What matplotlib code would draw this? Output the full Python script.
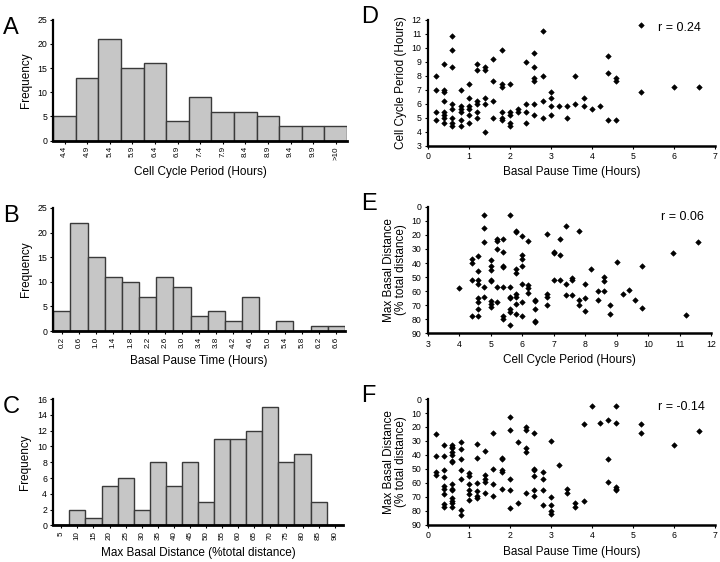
import matplotlib
matplotlib.use("Agg")
import matplotlib.pyplot as plt
import numpy as np

plt.rcParams['font.family'] = ['Liberation Sans', 'DejaVu Sans']

# histogram data
period_bins = ['4.4', '4.9', '5.4', '5.9', '6.4', '6.9', '7.4', '7.9', '8.4', '8.9', '9.4', '9.9', '>10']
period_freq = [5, 13, 21, 15, 16, 4, 9, 6, 6, 5, 3, 3, 3]

pause_bins = ['0.2', '0.6', '1.0', '1.4', '1.8', '2.2', '2.6', '3.0', '3.4', '3.8', '4.2', '4.6', '5.0', '5.4', '5.8', '6.2', '6.6']
pause_freq = [4, 22, 15, 11, 10, 7, 11, 9, 3, 4, 2, 7, 0, 2, 0, 1, 1]

dist_bins = ['5', '10', '15', '20', '25', '30', '35', '40', '45', '50', '55', '60', '65', '70', '75', '80', '85', '90']
dist_freq = [0, 2, 1, 5, 6, 2, 8, 5, 8, 3, 11, 11, 12, 15, 8, 9, 3, 0]

# D: basal pause time vs cell cycle period
d_pause = [0.2, 0.2, 0.2, 0.2,
           0.4, 0.4, 0.4, 0.4, 0.4, 0.4, 0.4, 0.4,
           0.6, 0.6, 0.6, 0.6, 0.6, 0.6, 0.6, 0.6,
           0.8, 0.8, 0.8, 0.8, 0.8, 0.8,
           1.0, 1.0, 1.0, 1.0, 1.0, 1.0,
           1.2, 1.2, 1.2, 1.2, 1.2, 1.2,
           1.4, 1.4, 1.4, 1.4, 1.4,
           1.6, 1.6, 1.6, 1.6,
           1.8, 1.8, 1.8, 1.8, 1.8, 1.8,
           2.0, 2.0, 2.0, 2.0, 2.0,
           2.2, 2.2,
           2.4, 2.4, 2.4, 2.4,
           2.6, 2.6, 2.6, 2.6, 2.6, 2.6,
           2.8, 2.8, 2.8, 2.8,
           3.0, 3.0, 3.0, 3.0,
           3.2, 3.4, 3.4, 3.6, 3.6, 3.8, 3.8, 4.0, 4.2,
           4.4, 4.4, 4.4, 4.6, 4.6, 4.6,
           5.2, 5.2, 6.0, 6.6]
d_period = [8.0, 7.0, 5.4, 4.8,
            8.8, 7.0, 6.8, 6.2, 5.4, 5.2, 5.0, 4.6,
            10.8, 9.8, 8.6, 6.0, 5.6, 5.0, 4.6, 4.4,
            7.0, 5.8, 5.6, 5.4, 4.8, 4.4,
            7.4, 6.4, 5.8, 5.6, 5.2, 4.6,
            8.8, 8.4, 6.2, 6.0, 5.4, 5.0,
            8.6, 8.4, 6.4, 6.0, 4.0,
            9.2, 7.6, 6.2, 5.0,
            9.8, 7.4, 7.2, 5.4, 5.0, 4.8,
            7.4, 5.4, 5.2, 4.6, 4.4,
            5.6, 5.4,
            9.0, 6.0, 5.4, 4.6,
            9.6, 8.6, 7.8, 7.6, 6.0, 5.2,
            11.2, 8.0, 6.2, 5.0,
            6.8, 6.4, 5.8, 5.2,
            5.8, 5.8, 5.0, 8.0, 6.0, 6.4, 5.8, 5.6, 5.8,
            9.4, 8.2, 4.8, 7.8, 7.6, 4.8,
            11.6, 6.8, 7.2, 7.2]

# E: cell cycle period vs max basal distance
e_period = [4.0,
            4.4, 4.4, 4.4, 4.4,
            4.6, 4.6, 4.6, 4.6, 4.6, 4.6, 4.6, 4.6,
            4.8, 4.8, 4.8, 4.8, 4.8,
            5.0, 5.0, 5.0, 5.0, 5.0, 5.0, 5.0, 5.0,
            5.2, 5.2, 5.2, 5.2, 5.2,
            5.4, 5.4, 5.4, 5.4, 5.4, 5.4, 5.4,
            5.6, 5.6, 5.6, 5.6, 5.6, 5.6, 5.6,
            5.8, 5.8, 5.8, 5.8, 5.8, 5.8, 5.8, 5.8,
            6.0, 6.0, 6.0, 6.0, 6.0, 6.0, 6.0,
            6.2, 6.2, 6.2, 6.2,
            6.4, 6.4, 6.4, 6.4, 6.4,
            6.8, 6.8, 6.8, 6.8,
            7.0, 7.0, 7.0,
            7.2, 7.2, 7.2,
            7.4, 7.4, 7.4,
            7.6, 7.6, 7.6,
            7.8, 7.8, 7.8,
            8.0, 8.0, 8.0,
            8.2, 8.4, 8.4, 8.6, 8.6, 8.6, 8.8, 8.8,
            9.0, 9.2, 9.4, 9.6, 9.8, 9.8,
            10.8, 11.2, 11.6]
e_dist = [58,
          37, 40, 52, 78,
          35, 46, 52, 55, 65, 68, 73, 78,
          6, 15, 25, 57, 64,
          38, 42, 45, 52, 53, 67, 69, 71,
          23, 24, 30, 57, 68,
          23, 32, 42, 43, 57, 78, 80,
          6, 57, 64, 65, 73, 75, 84,
          17, 18, 44, 47, 62, 64, 69, 76,
          21, 34, 37, 42, 55, 68, 78,
          24, 56, 58, 61,
          66, 67, 73, 81, 82,
          19, 62, 64, 70,
          32, 33, 52,
          23, 34, 52,
          14, 55, 63,
          51, 52, 63,
          17, 66, 70,
          55, 65, 74,
          44, 60, 66, 50, 53, 60, 70, 76,
          39, 62, 59, 66, 42, 72,
          33, 77, 25]

# F: basal pause time vs max basal distance
f_pause = [0.2, 0.2, 0.2, 0.2,
           0.4, 0.4, 0.4, 0.4, 0.4, 0.4, 0.4, 0.4, 0.4,
           0.6, 0.6, 0.6, 0.6, 0.6, 0.6, 0.6, 0.6, 0.6, 0.6, 0.6, 0.6, 0.6, 0.6,
           0.8, 0.8, 0.8, 0.8, 0.8, 0.8, 0.8,
           1.0, 1.0, 1.0, 1.0, 1.0, 1.0,
           1.2, 1.2, 1.2, 1.2, 1.2, 1.2,
           1.4, 1.4, 1.4, 1.4, 1.4,
           1.6, 1.6, 1.6, 1.6,
           1.8, 1.8, 1.8, 1.8, 1.8,
           2.0, 2.0, 2.0, 2.0, 2.0,
           2.2, 2.2,
           2.4, 2.4, 2.4, 2.4, 2.4,
           2.6, 2.6, 2.6, 2.6, 2.6, 2.6,
           2.8, 2.8, 2.8, 2.8,
           3.0, 3.0, 3.0, 3.0, 3.0,
           3.2, 3.4, 3.4, 3.6, 3.6, 3.8, 3.8, 4.0, 4.2,
           4.4, 4.4, 4.4,
           4.6, 4.6, 4.6, 4.6, 4.6,
           5.2, 5.2, 6.0, 6.6]
f_dist = [25, 41, 52, 54,
          33, 41, 51, 56, 62, 64, 68, 75, 77,
          33, 34, 35, 38, 40, 44, 45, 61, 64, 65, 71, 73, 74, 77,
          31, 36, 43, 51, 57, 79, 83,
          53, 55, 61, 65, 68, 72,
          32, 42, 60, 66, 69, 71,
          37, 54, 57, 59, 67,
          24, 50, 61, 69,
          42, 43, 51, 52, 64,
          13, 22, 57, 65, 78,
          31, 74,
          20, 22, 35, 38, 67,
          24, 50, 51, 55, 65, 69,
          52, 57, 65, 76,
          30, 70, 76, 80, 82,
          47, 64, 67, 74, 77, 18, 73, 5, 17,
          15, 43, 59,
          5, 17, 63, 64, 65,
          18, 24, 33, 23]

bar_color = '#c6c6c6'
edge_color = '#3a3a3a'

fig = plt.figure(figsize=(7.2, 5.62), dpi=100)


def style_axes(ax):
    ax.spines['top'].set_visible(False)
    ax.spines['right'].set_visible(False)
    ax.spines['left'].set_linewidth(1.6)
    ax.spines['bottom'].set_linewidth(2.0)
    ax.tick_params(axis='both', labelsize=6.3, length=2.5, width=0.8, pad=2)


def histogram(rect, labels, freq, ymax, ystep, xlabel, letter):
    ax = fig.add_axes(rect)
    x = np.arange(len(freq))
    ax.bar(x, freq, width=1.0, color=bar_color, edgecolor=edge_color, linewidth=1.0)
    ax.set_xlim(-0.5, len(freq) - 0.5)
    ax.set_ylim(0, ymax)
    ax.set_yticks(np.arange(0, ymax + 1, ystep))
    ax.set_xticks(x)
    ax.set_xticklabels(labels, rotation=90)
    style_axes(ax)
    ax.tick_params(axis='x', labelsize=5.8, length=2)
    ax.set_ylabel('Frequency', fontsize=8.5, labelpad=4)
    ax.set_xlabel(xlabel, fontsize=8.5, labelpad=5)
    fig.text(0.004, rect[1] + rect[3] + 0.005, letter, fontsize=17, va='top', ha='left')
    return ax


def scatter(rect, xs, ys, xlim, ylim, yticks, xlabel, ylabel, rtext, rpos, letter, invert=False):
    ax = fig.add_axes(rect)
    ax.scatter(xs, ys, marker='D', s=8, color='black', linewidths=0.4)
    ax.set_xlim(*xlim)
    ax.set_xticks(np.arange(xlim[0], xlim[1] + 1, 1))
    ax.set_yticks(yticks)
    if invert:
        ax.set_ylim(ylim[1], ylim[0])
    else:
        ax.set_ylim(*ylim)
    style_axes(ax)
    ax.spines['bottom'].set_linewidth(1.8)
    ax.set_xlabel(xlabel, fontsize=8.5, labelpad=4)
    ax.set_ylabel(ylabel, fontsize=8.5, labelpad=3, linespacing=1.0)
    ax.text(rpos[0], rpos[1], rtext, transform=ax.transAxes, fontsize=9, ha='center', va='center')
    fig.text(0.502, rect[1] + rect[3] + 0.025, letter, fontsize=17, va='top', ha='left')
    return ax


histogram([0.074, 0.750, 0.408, 0.215], period_bins, period_freq, 25, 5,
          'Cell Cycle Period (Hours)', 'A')
histogram([0.074, 0.411, 0.405, 0.219], pause_bins, pause_freq, 25, 5,
          'Basal Pause Time (Hours)', 'B')
histogram([0.074, 0.065, 0.402, 0.225], dist_bins, dist_freq, 16, 2,
          'Max Basal Distance (%total distance)', 'C')

scatter([0.594, 0.741, 0.399, 0.224], d_pause, d_period, (0, 7), (3, 12), np.arange(3, 13, 1),
        'Basal Pause Time (Hours)', 'Cell Cycle Period (Hours)', 'r = 0.24', (0.878, 0.93), 'D')
scatter([0.594, 0.407, 0.3935, 0.225], e_period, e_dist, (3, 12), (0, 90), np.arange(0, 91, 10),
        'Cell Cycle Period (Hours)', 'Max Basal Distance\n(% total distance)', 'r = 0.06', (0.90, 0.918), 'E',
        invert=True)
scatter([0.594, 0.066, 0.399, 0.224], f_pause, f_dist, (0, 7), (0, 90), np.arange(0, 91, 10),
        'Basal Pause Time (Hours)', 'Max Basal Distance\n(% total distance)', 'r = -0.14', (0.885, 0.939), 'F',
        invert=True)

fig.savefig('out.png', dpi=100)
